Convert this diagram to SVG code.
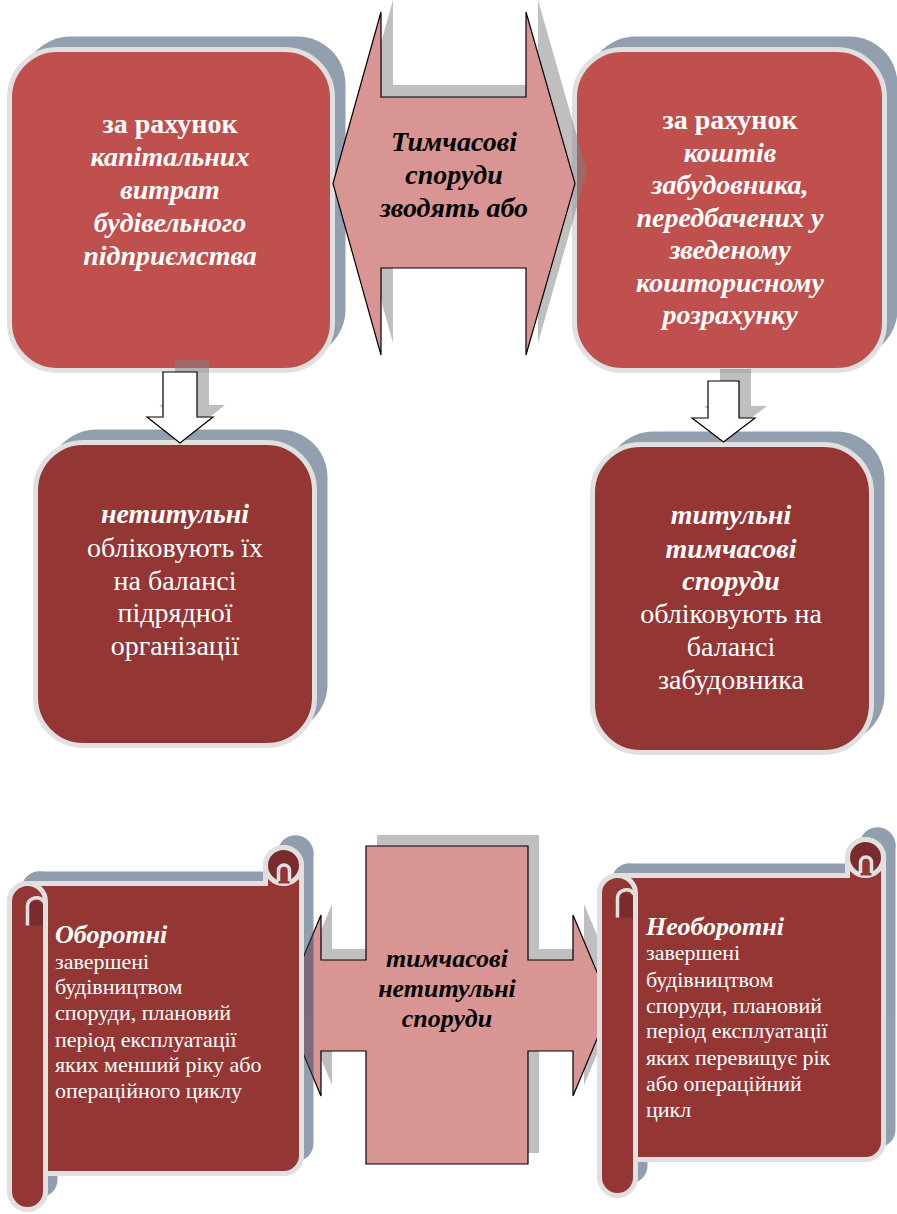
<svg xmlns="http://www.w3.org/2000/svg" width="897" height="1214" viewBox="0 0 897 1214">
<style>
.bx{stroke:#e0e0e0;stroke-width:5}
.red{fill:#c0504d}
.dred{fill:#943634}
.dark{fill:#7a2b2b}
.sh{fill:#243f60;opacity:0.5}
.gsh{fill:#808080;opacity:0.5}
.arr{fill:#d99594;stroke:#000;stroke-width:1.2}
.warr{fill:#fff;stroke:#000;stroke-width:1.2}
.ln{fill:none;stroke:#e0e0e0;stroke-width:3.5}
.f{font-family:'Liberation Serif','Times New Roman',Tinos,'Noto Serif','DejaVu Serif','FreeSerif','Nimbus Roman',serif}
.w{fill:#fff}
.k{fill:#000}
.bi{font-weight:bold;font-style:italic}
.b{font-weight:bold}
.t28{font-size:28px}
.t26{font-size:26px}
.s{font-size:22px}
.st{font-size:26px;font-weight:bold;font-style:italic}
</style>
<defs>
<path id="scL" d="M9.5,901.5 A18,18 0 0 1 27.5,883.5 H265.5 V865.5 A18,18 0 0 1 301.5,865.5 V1155.5 A18,18 0 0 1 283.5,1173.5 H9.5 Z"/>
<path id="rlL" d="M9.5,901.5 A18,18 0 0 1 45.5,901.5 V1191.5 A18,18 0 0 1 9.5,1191.5 Z"/>
<path id="scR" d="M599.5,893.5 A18,18 0 0 1 617.5,875.5 H847.5 V857.5 A18,18 0 0 1 883.5,857.5 V1141.5 A18,18 0 0 1 865.5,1159.5 H599.5 Z"/>
<path id="rlR" d="M599.5,893.5 A18,18 0 0 1 635.5,893.5 V1177.5 A18,18 0 0 1 599.5,1177.5 Z"/>
</defs>

<!-- top-left box -->
<g id="box-capital">
<rect class="sh" x="22.5" y="36.5" width="323" height="321" rx="48"/>
<rect class="bx red" x="9.5" y="49.5" width="323" height="321" rx="48"/>
<text class="f w t28" text-anchor="middle"><tspan class="b" x="170" y="133">за рахунок</tspan><tspan class="bi" x="170" y="166">капітальних</tspan><tspan class="bi" x="170" y="199">витрат</tspan><tspan class="bi" x="170" y="232">будівельного</tspan><tspan class="bi" x="170" y="265">підприємства</tspan></text>
</g>

<!-- top-right box -->
<g id="box-developer">
<rect class="sh" x="587.5" y="36.5" width="310" height="321" rx="48"/>
<rect class="bx red" x="574.5" y="49.5" width="310" height="321" rx="48"/>
<text class="f w t28" text-anchor="middle"><tspan class="b" x="730" y="129">за рахунок</tspan><tspan class="bi" x="730" y="162">коштів</tspan><tspan class="bi" x="730" y="194">забудовника,</tspan><tspan class="bi" x="730" y="227">передбачених у</tspan><tspan class="bi" x="730" y="259">зведеному</tspan><tspan class="bi" x="730" y="292">кошторисному</tspan><tspan class="bi" x="730" y="324">розрахунку</tspan></text>
</g>

<!-- bottom-left box -->
<g id="box-nontitle">
<rect class="sh" x="48.5" y="429.5" width="279" height="303" rx="48"/>
<rect class="bx dred" x="35.5" y="442.5" width="279" height="303" rx="48"/>
<text class="f w t28" text-anchor="middle"><tspan class="bi" x="175" y="523">нетитульні</tspan><tspan x="175" y="557">обліковують їх</tspan><tspan x="175" y="590">на балансі</tspan><tspan x="175" y="622">підрядної</tspan><tspan x="175" y="655">організації</tspan></text>
</g>

<!-- bottom-right box -->
<g id="box-title">
<rect class="sh" x="605.5" y="431.5" width="279" height="311" rx="48"/>
<rect class="bx dred" x="592.5" y="444.5" width="279" height="308" rx="48"/>
<text class="f w t28" text-anchor="middle"><tspan class="bi" x="731" y="524">титульні</tspan><tspan class="bi" x="731" y="558">тимчасові</tspan><tspan class="bi" x="731" y="590">споруди</tspan><tspan x="731" y="623">обліковують на</tspan><tspan x="731" y="656">балансі</tspan><tspan x="731" y="689">забудовника</tspan></text>
</g>

<!-- top double arrow -->
<g id="node-temp-built">
<polygon class="gsh" transform="translate(12,-12)" points="333,183.5 381,12 381,97 526,97 526,12 575,183.5 526,355 526,268 381,268 381,355"/>
<polygon class="arr" points="333,183.5 381,12 381,97 526,97 526,12 575,183.5 526,355 526,268 381,268 381,355"/>
<text class="f k bi t28" text-anchor="middle"><tspan x="454" y="151">Тимчасові</tspan><tspan x="454" y="184">споруди</tspan><tspan x="454" y="217">зводять або</tspan></text>
</g>

<!-- connectors: down arrows -->
<g id="connectors">
<polygon class="gsh" transform="translate(12,-12)" points="163,372 197,372 197,417 213,417 180,443 147,417 163,417"/>
<polygon class="warr" points="163,372 197,372 197,417 213,417 180,443 147,417 163,417"/>
<polygon class="gsh" transform="translate(12,-12)" points="708,381 739,381 739,418 755,418 723.5,442 692,418 708,418"/>
<polygon class="warr" points="708,381 739,381 739,418 755,418 723.5,442 692,418 708,418"/>
</g>

<!-- bottom cross arrow -->
<g id="node-temp-nontitle">
<polygon class="gsh" transform="translate(11,-11)" points="366,846 528,846 528,960 573,960 573,915 611,1005.5 573,1096 573,1051 528,1051 528,1164 366,1164 366,1051 321,1051 321,1096 283,1005.5 321,915 321,960 366,960"/>
<polygon class="arr" points="366,846 528,846 528,960 573,960 573,915 611,1005.5 573,1096 573,1051 528,1051 528,1164 366,1164 366,1051 321,1051 321,1096 283,1005.5 321,915 321,960 366,960"/>
<text class="f k bi t26" text-anchor="middle"><tspan x="447" y="967">тимчасові</tspan><tspan x="447" y="997">нетитульні</tspan><tspan x="447" y="1027">споруди</tspan></text>
</g>

<!-- left scroll -->
<g id="scroll-current">
<g class="sh" transform="translate(12,-12)"><use href="#scL"/><use href="#rlL"/><circle cx="283.5" cy="865.5" r="18"/></g>
<use href="#scL" class="bx dred"/>
<circle class="bx dark" cx="283.5" cy="865.5" r="18"/>
<path class="dred" d="M278.5,883.5 V870.5 A5.5,5.5 0 0 1 289.5,870.5 V883.5 Z"/>
<path class="ln" d="M278.5,881 V870.5 A5.5,5.5 0 0 1 289.5,870.5 V881"/>
<use href="#rlL" class="bx dred"/>
<path class="dark" d="M27.5,925.5 V905.5 A9,9 0 0 1 43,905.5 V925.5 Z"/>
<path class="ln" d="M27.5,925.5 V905.5 A9,9 0 0 1 44,902"/>
<text class="f w"><tspan class="st" x="55" y="943">Оборотні</tspan><tspan class="s" x="55" y="969">завершені</tspan><tspan class="s" x="55" y="994">будівництвом</tspan><tspan class="s" x="55" y="1020">споруди, плановий</tspan><tspan class="s" x="55" y="1047">період експлуатації</tspan><tspan class="s" x="55" y="1072">яких менший ріку або</tspan><tspan class="s" x="55" y="1098">операційного циклу</tspan></text>
</g>

<!-- right scroll -->
<g id="scroll-noncurrent">
<g class="sh" transform="translate(12,-12)"><use href="#scR"/><use href="#rlR"/><circle cx="865.5" cy="857.5" r="18"/></g>
<use href="#scR" class="bx dred"/>
<circle class="bx dark" cx="865.5" cy="857.5" r="18"/>
<path class="dred" d="M860.5,875.5 V862.5 A5.5,5.5 0 0 1 871.5,862.5 V875.5 Z"/>
<path class="ln" d="M860.5,873 V862.5 A5.5,5.5 0 0 1 871.5,862.5 V873"/>
<use href="#rlR" class="bx dred"/>
<path class="dark" d="M617.5,917.5 V897.5 A9,9 0 0 1 633,897.5 V917.5 Z"/>
<path class="ln" d="M617.5,917.5 V897.5 A9,9 0 0 1 634,894"/>
<text class="f w"><tspan class="st" x="646" y="935">Необоротні</tspan><tspan class="s" x="646" y="960">завершені</tspan><tspan class="s" x="646" y="987">будівництвом</tspan><tspan class="s" x="646" y="1013">споруди, плановий</tspan><tspan class="s" x="646" y="1038">період експлуатації</tspan><tspan class="s" x="646" y="1065">яких перевищує рік</tspan><tspan class="s" x="646" y="1091">або операційний</tspan><tspan class="s" x="646" y="1117">цикл</tspan></text>
</g>
</svg>
